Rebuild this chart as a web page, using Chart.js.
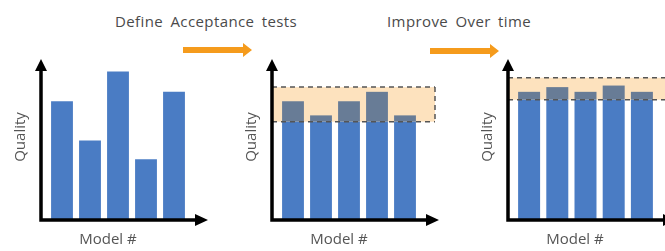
<!DOCTYPE html>
<html>
<head>
<meta charset="utf-8">
<script src="https://cdn.jsdelivr.net/npm/chart.js@4"></script>
<style>
    body { margin: 0; background: #fff; }
    #wrap { position: relative; width: 665px; height: 251px; overflow: hidden; font-family: "Open Sans", sans-serif; }
    #wrap canvas { position: absolute; left: 0; top: 0; }
    .step { position: absolute; top: 11px; font-size: 15px; color: #4a4a4a; letter-spacing: 0.4px; word-spacing: 3px; white-space: nowrap; }
    .arrow { position: absolute; }
</style>
</head>
<body>
<div id="wrap">
    <div class="step" style="left:115px">Define Acceptance tests</div>
    <div class="step" style="left:387px">Improve Over time</div>
    <svg class="arrow" style="left:183px;top:42px" width="70" height="16"><polygon points="0,5 60,5 60,1 69,8 60,15 60,11 0,11" fill="#f59b1c"/></svg>
    <svg class="arrow" style="left:430px;top:43px" width="70" height="16"><polygon points="0,5 60,5 60,1 69,8 60,15 60,11 0,11" fill="#f59b1c"/></svg>
    <canvas id="c1" width="665" height="251"></canvas>
    <canvas id="c2" width="665" height="251"></canvas>
    <canvas id="c3" width="665" height="251"></canvas>
</div>
<script>
// 数据
const models = ['1', '2', '3', '4', '5'];
const qualityStart = [75, 50, 94, 38, 81];
const qualityTested = [75, 66, 75, 81, 66];
const qualityImproved = [81, 84, 81, 85, 81];
const acceptTested = [62, 84];
const acceptImproved = [76, 90];

const BLUE = '#4a7cc4';
const GREY = '#687c96';

// 画带箭头的坐标轴和轴标题
const arrowAxes = {
    id: 'arrowAxes',
    afterDraw(chart, args, opts) {
        const { ctx, chartArea } = chart;
        const ax = chartArea.left - 7;
        const ay = chartArea.bottom + 1;
        const xTip = chartArea.right + 20;
        const yTip = chartArea.top - 3;
        ctx.save();
        ctx.strokeStyle = '#000';
        ctx.fillStyle = '#000';
        ctx.lineWidth = 3.5;
        ctx.beginPath();
        ctx.moveTo(ax, ay + 1.75);
        ctx.lineTo(ax, yTip + 10);
        ctx.moveTo(ax - 1.75, ay);
        ctx.lineTo(xTip - 10, ay);
        ctx.stroke();
        ctx.beginPath();
        ctx.moveTo(ax, yTip);
        ctx.lineTo(ax - 6, yTip + 12);
        ctx.lineTo(ax + 6, yTip + 12);
        ctx.closePath();
        ctx.moveTo(xTip, ay);
        ctx.lineTo(xTip - 13, ay - 6);
        ctx.lineTo(xTip - 13, ay + 6);
        ctx.closePath();
        ctx.fill();

        ctx.fillStyle = '#555';
        ctx.font = '15px "Open Sans"';
        ctx.textAlign = 'center';
        ctx.textBaseline = 'middle';
        ctx.fillText('Model #', ax + 67, 240);
        ctx.translate(ax - 20, 137);
        ctx.rotate(-Math.PI / 2);
        ctx.fillText('Quality', 0, 0);
        ctx.restore();
    }
};

// 验收区间
const band = {
    id: 'band',
    beforeDatasetsDraw(chart, args, opts) {
        if (!opts.range) return;
        const { ctx, chartArea, scales } = chart;
        const left = chartArea.left - 7;
        const right = opts.extend == null ? chart.width + 5 : chartArea.right + opts.extend;
        const top = scales.y.getPixelForValue(opts.range[1]);
        const bottom = scales.y.getPixelForValue(opts.range[0]);
        ctx.save();
        ctx.fillStyle = '#fde2be';
        ctx.fillRect(left, top, right - left, bottom - top);
        ctx.restore();
    },
    afterDatasetsDraw(chart, args, opts) {
        if (!opts.range) return;
        const { ctx, chartArea, scales } = chart;
        const left = chartArea.left - 7;
        const right = opts.extend == null ? chart.width + 5 : chartArea.right + opts.extend;
        const top = scales.y.getPixelForValue(opts.range[1]);
        const bottom = scales.y.getPixelForValue(opts.range[0]);
        ctx.save();
        ctx.strokeStyle = '#555';
        ctx.lineWidth = 1.5;
        ctx.setLineDash([5, 4]);
        ctx.beginPath();
        ctx.moveTo(left, top);
        ctx.lineTo(right, top);
        ctx.moveTo(left, bottom);
        ctx.lineTo(right, bottom);
        if (opts.extend != null) {
            ctx.moveTo(right, top);
            ctx.lineTo(right, bottom);
        }
        ctx.stroke();
        ctx.restore();
    }
};

function makeDatasets(values, range) {
    if (!range) {
        return [{ data: values, backgroundColor: BLUE }];
    }
    const low = range[0];
    return [
        { data: values.map(v => Math.min(v, low)), backgroundColor: BLUE },
        { data: values.map(v => Math.max(0, v - low)), backgroundColor: GREY }
    ];
}

function makeChart(id, values, range, padding, extend) {
    return new Chart(document.getElementById(id), {
        type: 'bar',
        data: {
            labels: models,
            datasets: makeDatasets(values, range).map(d => Object.assign(d, {
                barPercentage: 0.78,
                categoryPercentage: 1,
                borderWidth: 0
            }))
        },
        options: {
            responsive: false,
            animation: false,
            layout: { padding: padding },
            scales: {
                x: { display: false, stacked: true },
                y: { display: false, stacked: true, min: 0, max: 100 }
            },
            plugins: {
                legend: { display: false },
                tooltip: { enabled: false },
                band: { range: range, extend: extend }
            }
        },
        plugins: [band, arrowAxes]
    });
}

makeChart('c1', qualityStart, null, { left: 48, right: 477, top: 62, bottom: 32 });
makeChart('c2', qualityTested, acceptTested, { left: 279, right: 246, top: 62, bottom: 32 }, 16);
makeChart('c3', qualityImproved, acceptImproved, { left: 515, right: 9, top: 62, bottom: 32 }, null);
</script>
</body>
</html>
